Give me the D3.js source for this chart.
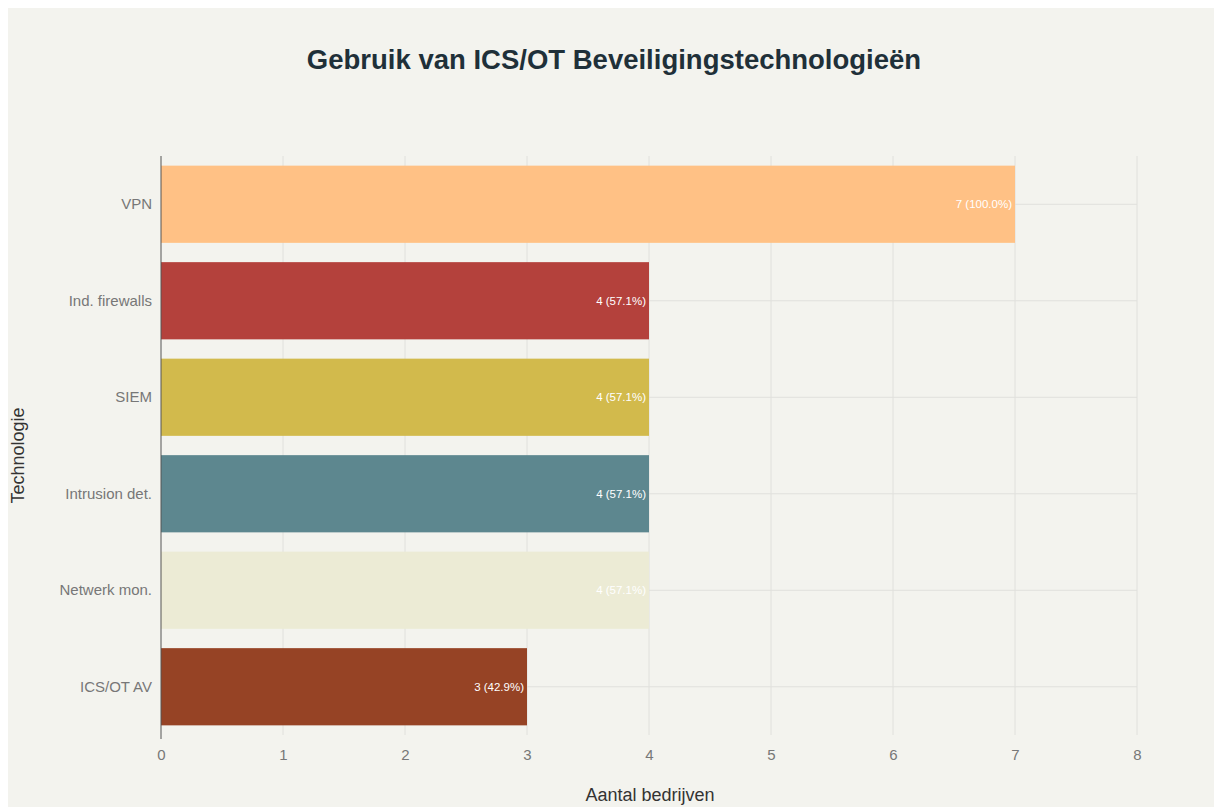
<!DOCTYPE html>
<html>
<head>
<meta charset="utf-8">
<script src="https://cdn.jsdelivr.net/npm/d3@7"></script>
<style>
  html, body { margin: 0; padding: 0; background: #ffffff; }
  svg { display: block; }
  text { font-family: "Liberation Sans", Arial, sans-serif; }
</style>
</head>
<body>
<svg id="chart" width="1214" height="807"></svg>
<script>
// Technologies and number of companies using each (out of 7)
const categories = ["VPN", "Ind. firewalls", "SIEM", "Intrusion det.", "Netwerk mon.", "ICS/OT AV"];
const counts = [7, 4, 4, 4, 4, 3];
const totalCompanies = 7;
const barColors = ["#FFC185", "#B4413C", "#D2BA4C", "#5D878F", "#ECEBD5", "#964325"];
const xTicks = [0, 1, 2, 3, 4, 5, 6, 7, 8];

const W = 1214, H = 807;
const margin = { left: 161, right: W - 1137, top: 156, bottom: H - 735 };

const svg = d3.select("#chart");

// page background panel
svg.append("rect")
  .attr("x", 8).attr("y", 8)
  .attr("width", W - 8).attr("height", H - 8)
  .attr("fill", "#f3f3ee");

const x = d3.scaleLinear().domain([0, 8]).range([margin.left, W - margin.right]);
const y = d3.scaleBand().domain(categories)
  .range([margin.top, H - margin.bottom])
  .paddingInner(0.2).paddingOuter(0.1);

// vertical grid lines
svg.append("g").selectAll("line")
  .data(xTicks.filter(d => d > 0))
  .join("line")
  .attr("x1", d => x(d)).attr("x2", d => x(d))
  .attr("y1", margin.top).attr("y2", H - margin.bottom)
  .attr("stroke", "#e0e0dc").attr("stroke-width", 1);

// horizontal grid lines through each category
svg.append("g").selectAll("line")
  .data(categories)
  .join("line")
  .attr("x1", x(0)).attr("x2", x(8))
  .attr("y1", d => y(d) + y.bandwidth() / 2)
  .attr("y2", d => y(d) + y.bandwidth() / 2)
  .attr("stroke", "#e0e0dc").attr("stroke-width", 1);

// bars
svg.append("g").selectAll("rect")
  .data(categories)
  .join("rect")
  .attr("x", x(0))
  .attr("y", d => y(d))
  .attr("width", (d, i) => x(counts[i]) - x(0))
  .attr("height", y.bandwidth())
  .attr("fill", (d, i) => barColors[i]);

// value labels inside bar ends
svg.append("g").selectAll("text")
  .data(categories)
  .join("text")
  .attr("x", (d, i) => x(counts[i]) - 3)
  .attr("y", d => y(d) + y.bandwidth() / 2)
  .attr("dy", "0.35em")
  .attr("text-anchor", "end")
  .attr("font-size", 11.5)
  .attr("fill", "#ffffff")
  .text((d, i) => `${counts[i]} (${(counts[i] / totalCompanies * 100).toFixed(1)}%)`);

// x axis
const xAxis = svg.append("g")
  .attr("transform", `translate(0,${H - margin.bottom})`)
  .call(d3.axisBottom(x).tickValues(xTicks).tickSize(0).tickPadding(14).tickFormat(d3.format("d")));
xAxis.select(".domain").remove();
xAxis.selectAll("text").attr("font-size", 15).attr("fill", "#777777")
  .style("font-family", "'Liberation Sans', Arial, sans-serif");

// y axis
const yAxis = svg.append("g")
  .attr("transform", `translate(${margin.left},0)`)
  .call(d3.axisLeft(y).tickSize(0).tickPadding(9));
yAxis.select(".domain").remove();
yAxis.selectAll("text").attr("font-size", 15).attr("fill", "#777777")
  .style("font-family", "'Liberation Sans', Arial, sans-serif");

// zero line
svg.append("line")
  .attr("x1", x(0)).attr("x2", x(0))
  .attr("y1", margin.top).attr("y2", H - margin.bottom + 4)
  .attr("stroke", "#555555").attr("stroke-width", 1);

// axis titles
svg.append("text")
  .attr("x", (x(0) + x(8)) / 2 + 1).attr("y", 801)
  .attr("text-anchor", "middle")
  .attr("font-size", 18).attr("fill", "#333333")
  .text("Aantal bedrijven");

svg.append("text")
  .attr("transform", `translate(24,${(margin.top + H - margin.bottom) / 2 + 10}) rotate(-90)`)
  .attr("text-anchor", "middle")
  .attr("font-size", 18).attr("fill", "#333333")
  .text("Technologie");

// title
svg.append("text")
  .attr("x", 614).attr("y", 69)
  .attr("text-anchor", "middle")
  .attr("font-size", 27.5).attr("font-weight", "bold")
  .attr("fill", "#1f3039")
  .text("Gebruik van ICS/OT Beveiligingstechnologieën");
</script>
</body>
</html>
